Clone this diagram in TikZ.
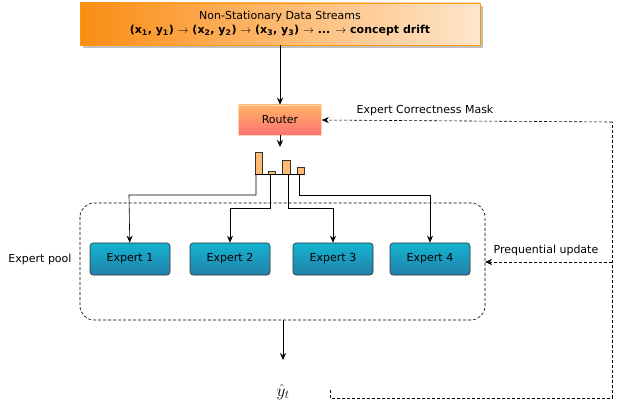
\documentclass[tikz,border=0pt]{standalone}
\usepackage{fontspec}
\setmainfont{DejaVu Sans}
\usetikzlibrary{calc,shadows,arrows.meta}
\definecolor{orgA}{RGB}{250,140,20}
\definecolor{orgB}{RGB}{255,230,205}
\definecolor{expA}{RGB}{18,180,210}
\definecolor{expB}{RGB}{36,128,168}
\tikzset{
  lbl/.style={font=\fontsize{11}{13}\selectfont},
  expert/.style={draw=black!80,rounded corners=3pt,top color=expA,bottom color=expB,
    minimum width=80,minimum height=32,lbl},
  bar/.style={draw=black!80,fill=orange!55,semithick},
  fbline/.style={dash pattern=on 3pt off 2pt,semithick}
}
\begin{document}
\begin{tikzpicture}[x=1pt,y=-1pt,>={Stealth[length=7pt,width=6pt]},semithick]
  \useasboundingbox (0,0) rectangle (620,419);

  % input stream
  \node[draw=orange!80!yellow,left color=orgA,right color=orgB,drop shadow,
    minimum width=400,minimum height=42,inner sep=0,align=center,
    font=\fontsize{11}{14}\selectfont] (stream) at (280,24)
    {Non-Stationary Data Streams\\
     \textbf{(x\textsubscript{1}, y\textsubscript{1}) $\rightarrow$ (x\textsubscript{2}, y\textsubscript{2}) $\rightarrow$ (x\textsubscript{3}, y\textsubscript{3}) $\rightarrow$ ... $\rightarrow$ concept drift}};

  \node[draw=orange!30,top color=orange!60,bottom color=red!55,
    minimum width=83,minimum height=30,lbl] (router) at (280,120) {Router};
  \draw[->] (stream) -- (router);

  % gate weights
  \draw[bar] (255,152) rectangle (262,174);
  \draw[bar] (268,171) rectangle (275,174);
  \draw[bar] (282,160) rectangle (290,174);
  \draw[bar] (297,167) rectangle (304,174);
  \draw (255,174) -- (304,174);
  \draw[->] (router) -- (280,147);

  % expert pool
  \draw[fbline,rounded corners=14] (80,203) rectangle (485,320);
  \node[lbl] (pool) at (40,259) {Expert pool};
  \foreach \i/\x in {1/130,2/230,3/333,4/430}
    \node[expert] (e\i) at (\x,259) {Expert \i};

  \draw[->] (256,174) |- (129,195) -- (e1);
  \draw[->] (270,174) |- (230,208) -- (e2);
  \draw[->] (288,174) |- (333,208) -- (e3);
  \draw[->] (299,174) |- (430,195) -- (e4);

  % output
  \coordinate (poolb) at (283,320);
  \node (yhat) at (283,392) {\LARGE$\hat{y}_t$};
  \draw[->] (poolb) -- (283,360);

  % feedback
  \coordinate (fb) at (612,398);
  \draw[fbline] (330,390) -- (330,398) -- (fb) -- (612,122);
  \draw[fbline,->] (612,122) -- (router.east);
  \draw[fbline,->] (612,262) -- (485,262);
  \node[lbl] (mask) at (425,110) {Expert Correctness Mask};
  \node[lbl] (prequ) at (546,250) {Prequential update};
\end{tikzpicture}
\end{document}
